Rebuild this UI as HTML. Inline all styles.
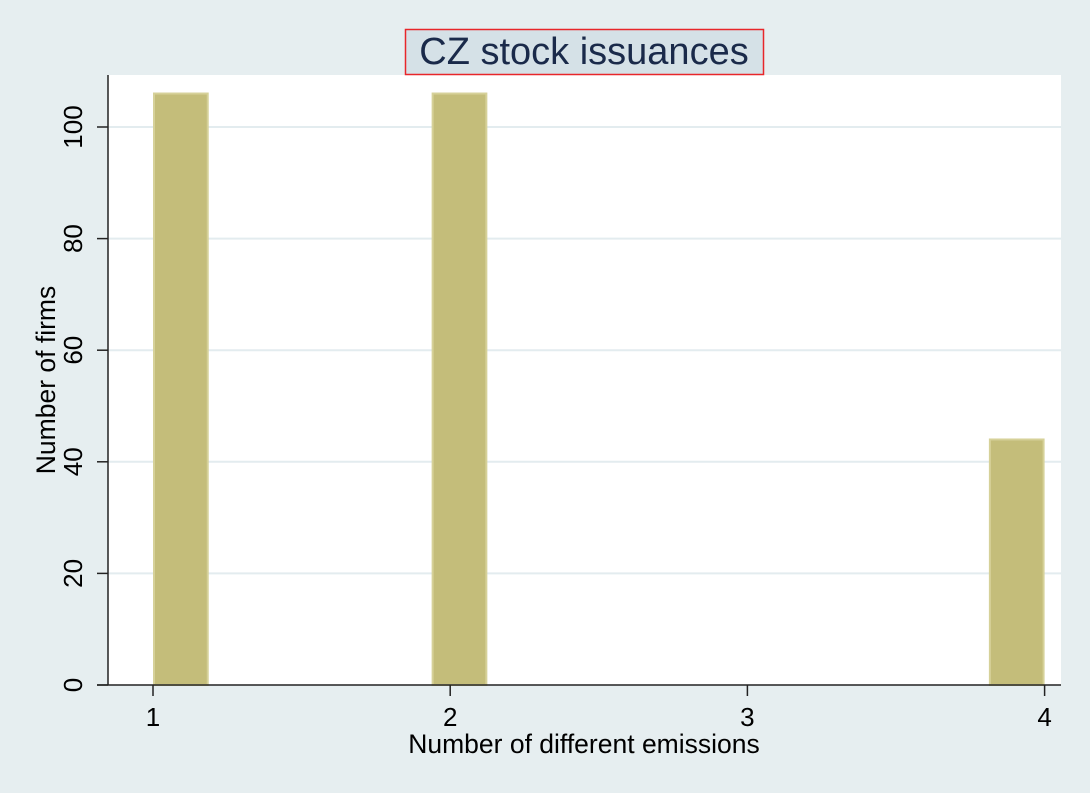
<!DOCTYPE html>
<html><head><meta charset="utf-8"><style>
body{margin:0;background:#e6eef0;}
svg{display:block;font-family:"Liberation Sans",sans-serif;}
</style></head><body>
<svg width="1090" height="793">
<rect x="0" y="0" width="1090" height="793" fill="#e6eef0"/>
<rect x="108" y="75" width="953" height="610" fill="#ffffff"/>
<g id="grid"></g><g id="bars"></g><g id="axes"></g>
<rect x="405.5" y="29.5" width="358" height="45" fill="#d5e1e7" stroke="#e8262a" stroke-width="1.5"/>
<text x="584" y="64" text-anchor="middle" font-size="38" fill="#1a2a4a">CZ stock issuances</text>
<text x="584" y="753" text-anchor="middle" font-size="26.5" fill="#000">Number of different emissions</text>
<text transform="translate(55,380) rotate(-90)" text-anchor="middle" font-size="26.5" fill="#000">Number of firms</text>
</svg>
<script>
const categories=[1,2,4];
const counts=[106,106,44];
const yTicks=[0,20,40,60,80,100];
const xTicks=[1,2,3,4];
const binWidth=3/16;
const NS="http://www.w3.org/2000/svg";
function X(v){return 153+(v-1)*297.2;}
function Y(v){return 685-v*5.58;}
function mk(p,t,a){const e=document.createElementNS(NS,t);for(const k in a)e.setAttribute(k,a[k]);p.appendChild(e);return e;}
const grid=document.getElementById('grid'),bars=document.getElementById('bars'),axes=document.getElementById('axes');
yTicks.forEach(t=>{
  if(t>0){const g=mk(grid,'line',{x1:108,x2:1061,y1:Y(t),y2:Y(t),stroke:'#e3ecef','stroke-width':2});
  
  }
  const tk=mk(axes,'line',{x1:97,x2:108,y1:Y(t),y2:Y(t),stroke:'#222','stroke-width':1.5});
  
  
  const lb=mk(axes,'text',{transform:`translate(82,${Y(t)}) rotate(-90)`,'text-anchor':'middle','font-size':26,fill:'#000'});
  lb.textContent=t;
  
  
});
xTicks.forEach(t=>{
  const tk=mk(axes,'line',{x1:X(t),x2:X(t),y1:685,y2:696,stroke:'#222','stroke-width':1.5});
  
  
  const lb=mk(axes,'text',{x:X(t),y:726,'text-anchor':'middle','font-size':26,fill:'#000'});
  lb.textContent=t;
  
  
});
categories.forEach((c,i)=>{
  let k=Math.floor((c-1)/binWidth+1e-9);if(k>15)k=15;
  const x0=X(1+k*binWidth),x1=X(1+(k+1)*binWidth);
  const r=mk(bars,'rect',{x:x0+1,y:Y(counts[i]),width:x1-x0-2,height:685-Y(counts[i]),fill:'#c4bd7a',stroke:'#d6d199','stroke-width':2});
  
  
});
const ax=mk(axes,'line',{x1:108,x2:108,y1:75,y2:685,stroke:'#222','stroke-width':1.5});


const bx=mk(axes,'line',{x1:97,x2:1061,y1:685,y2:685,stroke:'#222','stroke-width':1.5});


</script>
</body></html>
